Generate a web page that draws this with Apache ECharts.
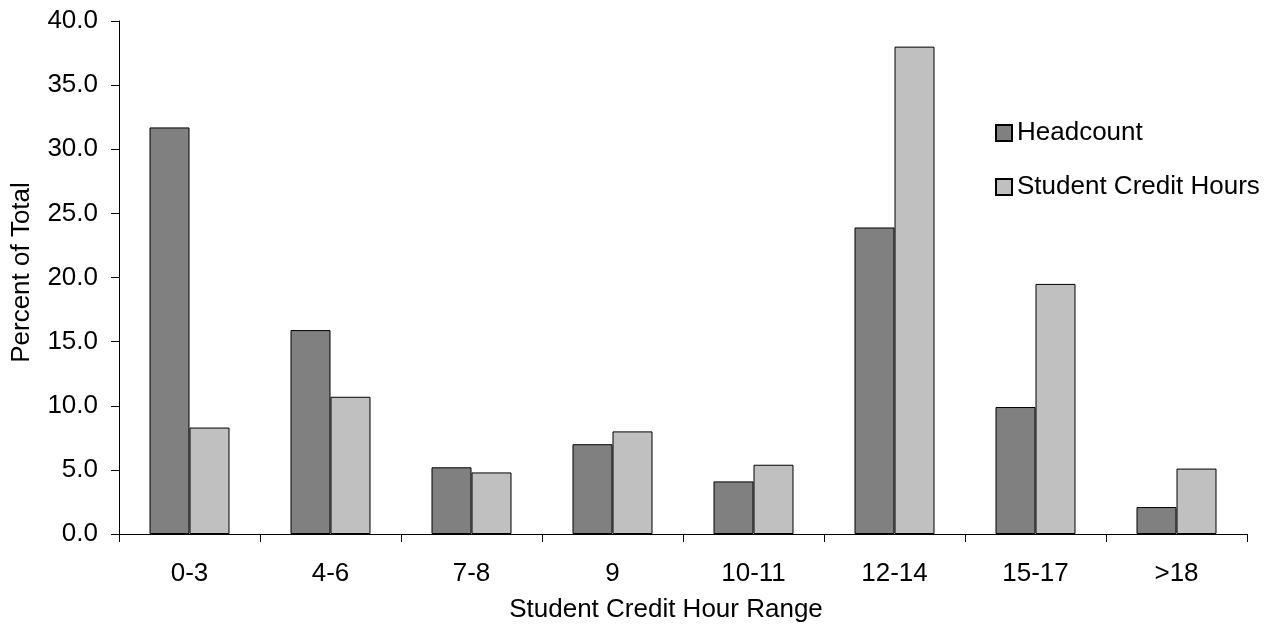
<!DOCTYPE html>
<html>
<head>
<meta charset="utf-8">
<script src="https://cdn.jsdelivr.net/npm/echarts@6/dist/echarts.min.js"></script>
<style>
html,body{margin:0;padding:0;background:#fff;}
#chart{width:1275px;height:625px;}
</style>
</head>
<body>
<div id="chart"></div>
<script>
const categories = ['0-3','4-6','7-8','9','10-11','12-14','15-17','>18'];
const headcount = [31.7, 15.9, 5.2, 7.0, 4.1, 23.9, 9.9, 2.1];
const creditHours = [8.3, 10.7, 4.8, 8.0, 5.4, 38.0, 19.5, 5.1];
const seriesNames = ['Headcount', 'Student Credit Hours'];
const xTitle = 'Student Credit Hour Range';
const yTitle = 'Percent of Total';

const FONT = 'Liberation Sans, Arial, sans-serif';
const FS = 26;
const chart = echarts.init(document.getElementById('chart'), null, {renderer:'canvas'});
chart.setOption({
  animation: false,
  backgroundColor: '#ffffff',
  textStyle: {fontFamily: FONT, color: '#000'},
  legend: {
    orient: 'vertical',
    left: 995,
    top: 120,
    padding: 0,
    itemWidth: 16,
    itemHeight: 16,
    itemGap: 28,
    icon: 'rect',
    textStyle: {fontFamily: FONT, fontSize: FS, color: '#000'},
    data: seriesNames
  },
  grid: {left: 119, right: 28, top: 21, bottom: 91, containLabel: false, outerBoundsMode: 'none'},
  xAxis: {
    type: 'category',
    data: categories,
    boundaryGap: true,
    name: xTitle,
    nameLocation: 'middle',
    nameGap: 63,
    nameTextStyle: {fontFamily: FONT, fontSize: FS, color: '#000', padding: [0, 34, 0, 0]},
    axisLine: {lineStyle: {color: '#000', width: 1}},
    axisTick: {show: true, alignWithLabel: false, length: 8, lineStyle: {color: '#000'}},
    axisLabel: {fontFamily: FONT, fontSize: FS, color: '#000', margin: 27, interval: 0},
    splitLine: {show: false}
  },
  yAxis: {
    type: 'value',
    min: 0,
    max: 40,
    interval: 5,
    name: yTitle,
    nameLocation: 'middle',
    nameGap: 84,
    nameRotate: 90,
    nameTextStyle: {fontFamily: FONT, fontSize: FS, color: '#000', padding: [0, 0, 0, 10]},
    axisLine: {show: true, lineStyle: {color: '#000', width: 1}},
    axisTick: {show: true, length: 8, lineStyle: {color: '#000'}},
    axisLabel: {fontFamily: FONT, fontSize: FS, color: '#000', margin: 21,
      formatter: v => v.toFixed(1)},
    splitLine: {show: false}
  },
  series: [
    {
      name: seriesNames[0],
      type: 'bar',
      data: headcount,
      barWidth: 40,
      barGap: '0%',
      itemStyle: {color: '#808080', borderColor: '#000', borderWidth: 1}
    },
    {
      name: seriesNames[1],
      type: 'bar',
      data: creditHours,
      barWidth: 40,
      barGap: '0%',
      itemStyle: {color: '#c0c0c0', borderColor: '#000', borderWidth: 1}
    }
  ]
});
</script>
</body>
</html>
